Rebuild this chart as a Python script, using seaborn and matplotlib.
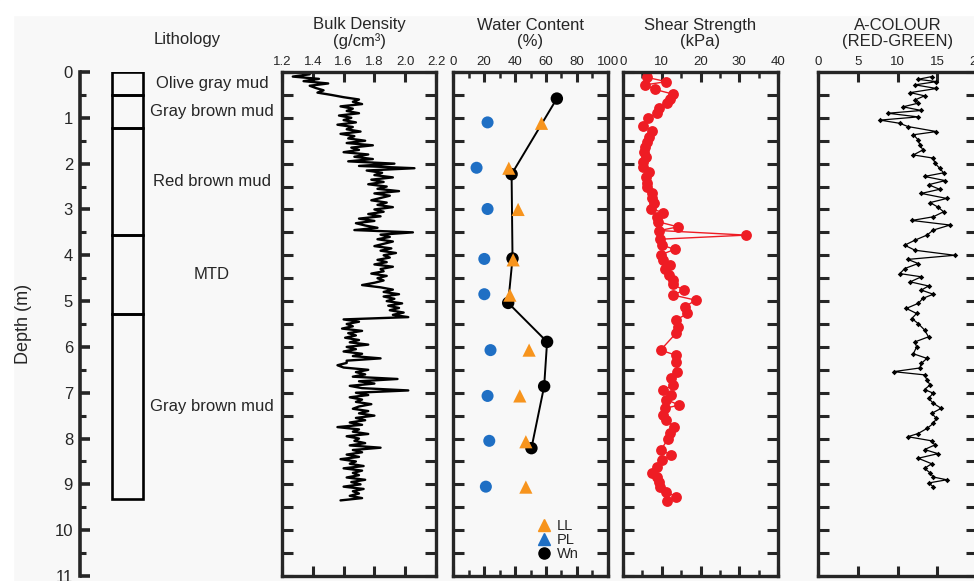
import numpy as np
import matplotlib
matplotlib.use("Agg")
import matplotlib.pyplot as plt
from matplotlib.lines import Line2D
from matplotlib.patches import Rectangle
from matplotlib.ticker import MultipleLocator
import seaborn as sns

# --- lithology units (m)
lith_top = [0.0, 0.5, 1.22, 3.56, 5.28]
lith_base = [0.5, 1.22, 3.56, 5.28, 9.33]
lith_names = ["Olive gray mud", "Gray brown mud", "Red brown mud", "MTD", "Gray brown mud"]

# --- bulk density (g/cm3), sampled every 0.05 m from 0 to 9.35 m
bd_step = 0.05
bulk_density = [
    1.30, 1.38, 1.27, 1.44, 1.34, 1.50, 1.38, 1.42, 1.47, 1.43, 1.52,
    1.60, 1.70, 1.66, 1.72, 1.58, 1.66, 1.62, 1.70, 1.57, 1.65,
    1.60, 1.68, 1.56, 1.66, 1.62, 1.71, 1.58, 1.67, 1.63, 1.74,
    1.62, 1.79, 1.65, 1.70, 1.60, 1.76, 1.67, 1.79, 1.63, 1.93,
    1.70, 2.06, 1.75, 1.85, 1.80, 1.92, 1.78, 1.86, 1.76, 1.88,
    1.82, 1.96, 1.80, 1.90, 1.84, 1.78, 1.88, 1.82, 1.92, 1.80,
    1.86, 1.76, 1.84, 1.70, 1.80, 1.68, 1.74, 1.82, 1.67, 2.05,
    1.84, 1.90, 1.82, 1.92, 1.86, 1.80, 1.91, 1.84, 1.94, 1.86,
    1.90, 1.82, 1.88, 1.80, 1.92, 1.84, 1.86, 1.78, 1.88, 1.82,
    1.86, 1.80, 1.72, 1.84, 1.92, 1.86, 1.96, 1.86, 1.93, 1.88,
    1.98, 1.89, 1.96, 1.90, 1.99, 1.92, 2.02,
    1.60, 1.70, 1.62, 1.66, 1.59, 1.72, 1.63, 1.68, 1.61,
    1.70, 1.64, 1.76, 1.62, 1.68, 1.60, 1.72, 1.66, 1.84, 1.62,
    1.62, 1.56, 1.60, 1.76, 1.68, 1.74, 1.66, 1.95, 1.70, 1.80,
    1.64, 1.72, 2.02, 1.68, 1.76, 1.64, 1.72, 1.68, 1.78, 1.70,
    1.66, 1.76, 1.70, 1.80, 1.68, 1.74, 1.64, 1.72, 1.56, 1.70,
    1.66, 1.76, 1.62, 1.70, 1.67, 1.74, 1.64, 1.84, 1.66, 1.72,
    1.62, 1.70, 1.58, 1.68, 1.64, 1.73, 1.60, 1.72, 1.66, 1.70,
    1.62, 1.74, 1.65, 1.71, 1.60, 1.73, 1.66, 1.70, 1.64, 1.72, 1.58,
]
bd_depth = np.round(np.arange(len(bulk_density)) * bd_step, 2)

# --- water content (%)
wn_depth = [0.58, 2.23, 4.07, 5.04, 5.89, 6.86, 8.21]
wn = [67.0, 37.8, 38.4, 35.6, 60.7, 58.8, 50.6]
ll_depth = [1.12, 2.10, 3.00, 4.10, 4.87, 6.07, 7.07, 8.07, 9.06]
ll = [57.1, 36.0, 42.0, 38.8, 36.7, 49.1, 43.1, 47.0, 47.0]
pl_depth = [1.10, 2.09, 2.99, 4.08, 4.85, 6.07, 7.07, 8.05, 9.05]
pl = [22.3, 15.2, 22.3, 20.2, 20.2, 24.2, 22.3, 23.4, 21.2]

# --- shear strength (kPa)
ss_depth = [0.12, 0.21, 0.28, 0.38, 0.48, 0.60, 0.68, 0.79, 0.89, 1.01,
            1.18, 1.28, 1.41, 1.52, 1.63, 1.74, 1.85, 1.96, 2.07, 2.19,
            2.30, 2.42, 2.52, 2.63, 2.76, 2.87, 2.98, 3.07, 3.17, 3.27,
            3.38, 3.46, 3.56, 3.65, 3.78, 3.87, 3.99, 4.10, 4.21, 4.31,
            4.43, 4.54, 4.63, 4.76, 4.87, 4.98, 5.12, 5.27, 5.41, 5.56,
            5.69, 6.07, 6.18, 6.32, 6.54, 6.68, 6.83, 6.94, 7.05, 7.15,
            7.27, 7.34, 7.49, 7.60, 7.74, 7.88, 8.02, 8.25, 8.36, 8.47,
            8.62, 8.75, 8.85, 8.95, 9.05, 9.16, 9.27, 9.36]
shear = [6.3, 11.2, 5.8, 8.2, 12.8, 12.1, 11.4, 9.4, 8.9, 6.5,
         5.2, 7.6, 6.8, 6.3, 5.7, 5.4, 5.9, 5.2, 5.1, 6.8,
         5.9, 6.3, 6.1, 7.6, 7.4, 8.0, 7.1, 10.4, 8.7, 9.1,
         14.2, 9.4, 31.8, 9.5, 10.0, 13.4, 9.7, 10.4, 12.1, 10.8,
         11.9, 13.0, 12.8, 15.7, 13.0, 18.8, 16.0, 16.6, 13.8, 14.2,
         13.8, 9.7, 13.6, 13.8, 14.0, 12.5, 13.0, 10.4, 12.5, 11.2,
         14.5, 10.8, 10.4, 11.2, 13.1, 12.1, 11.5, 9.8, 12.4, 10.0,
         8.7, 7.4, 8.7, 9.4, 9.5, 11.2, 13.6, 11.4]

# --- a* colour (red-green)
ac_depth = [0.10, 0.16, 0.21, 0.28, 0.36, 0.45, 0.52, 0.61, 0.68, 0.76,
            0.84, 0.90, 0.98, 1.05, 1.12, 1.19, 1.30, 1.37, 1.48, 1.59,
            1.70, 1.81, 1.88, 1.99, 2.10, 2.20, 2.28, 2.37, 2.46, 2.56,
            2.65, 2.76, 2.85, 2.95, 3.05, 3.16, 3.24, 3.34, 3.45, 3.56,
            3.67, 3.78, 3.89, 4.00, 4.09, 4.18, 4.29, 4.40, 4.47, 4.58,
            4.67, 4.76, 4.85, 4.94, 5.05, 5.16, 5.27, 5.38, 5.49, 5.63,
            5.78, 5.89, 6.00, 6.15, 6.25, 6.36, 6.46, 6.54, 6.61, 6.72,
            6.83, 6.93, 7.01, 7.12, 7.23, 7.34, 7.45, 7.56, 7.67, 7.78,
            7.89, 7.96, 8.05, 8.14, 8.24, 8.33, 8.43, 8.55, 8.65, 8.75,
            8.84, 8.90, 8.97, 9.05]
a_colour = [14.3, 12.6, 14.9, 12.2, 14.9, 11.6, 13.4, 12.2, 12.6, 10.7,
            13.0, 8.8, 12.6, 7.8, 10.3, 11.3, 14.9, 12.0, 12.6, 12.8,
            13.2, 12.0, 14.5, 14.7, 15.3, 15.8, 13.4, 16.0, 13.9, 15.3,
            13.0, 16.2, 14.1, 15.1, 15.8, 14.5, 11.8, 16.6, 14.5, 13.7,
            12.2, 10.9, 12.2, 17.2, 11.3, 12.6, 10.9, 10.3, 13.0, 11.6,
            13.9, 13.0, 14.5, 13.2, 12.6, 11.1, 12.4, 11.8, 12.6, 13.4,
            13.9, 12.2, 12.4, 12.0, 13.7, 13.0, 12.8, 9.5, 13.4, 13.7,
            14.1, 13.4, 14.5, 13.9, 14.5, 15.5, 14.3, 14.9, 14.5, 13.7,
            12.6, 11.3, 14.3, 14.7, 13.4, 15.1, 12.6, 14.3, 13.4, 14.1,
            14.5, 16.2, 13.9, 14.5]

BG = "#f8f8f8"
ORANGE = "#f7941d"
BLUE = "#1f6fc4"
RED = "#ee1c24"

sns.set_style("ticks")
plt.rcParams["font.family"] = ["Liberation Sans", "DejaVu Sans"]

W, H = 974, 581
fig = plt.figure(figsize=(W / 100, H / 100), dpi=100, facecolor=BG)
fig.add_artist(Rectangle((0, 1 - 15 / H), 1, 15 / H, transform=fig.transFigure,
                         color="white", zorder=-5))
fig.add_artist(Rectangle((0, 0), 13 / W, 1, transform=fig.transFigure,
                         color="white", zorder=-5))


def px_axes(x0, x1, y0=72, y1=576):
    return fig.add_axes([x0 / W, (H - y1) / H, (x1 - x0) / W, (y1 - y0) / H])


# depth scale + lithology column
ax0 = px_axes(80, 280)
ax0.set_facecolor("none")
ax0.set_xlim(0, 200)
ax0.set_ylim(11, 0)
thick = [b - t for t, b in zip(lith_top, lith_base)]
ax0.bar(x=47.5, height=thick, bottom=lith_top, width=31, fill=False,
        edgecolor="black", linewidth=1.9)
for t, b, name in zip(lith_top, lith_base, lith_names):
    ax0.text(132, (t + b) / 2, name, ha="center", va="center", fontsize=12)
ax0.text(107, -0.7, "Lithology", ha="center", va="center", fontsize=12, clip_on=False)
for s in ["top", "right", "bottom"]:
    ax0.spines[s].set_visible(False)
ax0.spines["left"].set_linewidth(2.6)
ax0.set_xticks([])
ax0.yaxis.set_major_locator(MultipleLocator(1))
ax0.yaxis.set_minor_locator(MultipleLocator(0.5))
ax0.tick_params(axis="y", which="major", direction="in", length=7, width=2.6,
                labelsize=12, pad=5)
ax0.tick_params(axis="y", which="minor", direction="in", length=4, width=2.2)
ax0.set_ylabel("Depth (m)", fontsize=13, labelpad=16)


def style_panel(ax, xlim, major, minor, label):
    ax.set_facecolor("none")
    ax.set_xlim(*xlim)
    ax.set_ylim(11, 0)
    ax.xaxis.set_major_locator(MultipleLocator(major))
    if minor:
        ax.xaxis.set_minor_locator(MultipleLocator(minor))
    ax.yaxis.set_major_locator(MultipleLocator(0.5))
    ax.tick_params(axis="x", which="both", direction="in", top=True, bottom=True,
                   labeltop=True, labelbottom=False, labelsize=9.5, pad=3)
    ax.tick_params(axis="x", which="major", length=7, width=2.2)
    ax.tick_params(axis="x", which="minor", length=4, width=1.8)
    ax.tick_params(axis="y", direction="in", left=True, right=True,
                   labelleft=False, length=8, width=2.2)
    ax.xaxis.set_label_position("top")
    ax.set_xlabel(label, fontsize=12, labelpad=7, linespacing=1.1)
    ax.set_ylabel("")
    for s in ax.spines.values():
        s.set_linewidth(2.4)


# bulk density
ax1 = px_axes(282, 436)
sns.lineplot(x=bulk_density, y=bd_depth, sort=False, estimator=None,
             color="black", linewidth=1.7, ax=ax1)
style_panel(ax1, (1.2, 2.2), 0.2, None, "Bulk Density\n(g/cm³)")
ax1.set_xticks([1.2, 1.4, 1.6, 1.8, 2.0, 2.2])
ax1.set_xticklabels(["1.2", "1.4", "1.6", "1.8", "2.0", "2.2"])

# water content
ax2 = px_axes(453, 608)
sns.lineplot(x=wn, y=wn_depth, sort=False, estimator=None, color="black",
             linewidth=1.4, ax=ax2)
sns.scatterplot(x=wn, y=wn_depth, color="black", s=80, edgecolor="none", ax=ax2, zorder=3)
sns.scatterplot(x=pl, y=pl_depth, color=BLUE, s=75, edgecolor="none", ax=ax2, zorder=3)
sns.scatterplot(x=ll, y=ll_depth, color=ORANGE, marker="^", s=90, edgecolor="none",
                ax=ax2, zorder=4)
style_panel(ax2, (0, 100), 20, 10, "Water Content\n(%)")
handles = [
    Line2D([], [], marker="^", color=ORANGE, linestyle="none", markersize=8),
    Line2D([], [], marker="^", color=BLUE, linestyle="none", markersize=8),
    Line2D([], [], marker="o", color="black", linestyle="none", markersize=8),
]
ax2.legend(handles, ["LL", "PL", "Wn"], loc="lower left", bbox_to_anchor=(0.54, 0.03),
           frameon=False, fontsize=10.5, handlelength=1.0, handletextpad=0.4,
           labelspacing=0.0, borderpad=0, borderaxespad=0)

# shear strength
ax3 = px_axes(623, 778)
sns.lineplot(x=shear, y=ss_depth, sort=False, estimator=None, color=RED,
             linewidth=1.0, marker="o", markersize=7.8, markeredgewidth=0, ax=ax3)
style_panel(ax3, (0, 40), 10, 5, "Shear Strength\n(kPa)")

# a* colour
ax4 = px_axes(818, 977)
sns.lineplot(x=a_colour, y=ac_depth, sort=False, estimator=None, color="black",
             linewidth=0.9, marker="D", markersize=2.8, markeredgewidth=0, ax=ax4)
style_panel(ax4, (0, 20), 5, None, "A-COLOUR\n(RED-GREEN)")

fig.savefig("out.png", dpi=100, facecolor=BG)
